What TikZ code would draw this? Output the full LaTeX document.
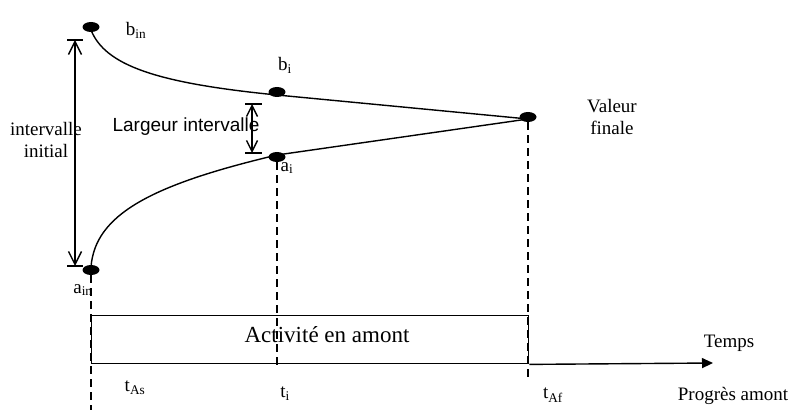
\documentclass[tikz,border=0pt]{standalone}
\usepackage{fontspec}
\setmainfont{Liberation Serif}
\newfontfamily\arialfont{Liberation Sans}
\usetikzlibrary{arrows.meta,shapes.geometric}
\begin{document}
\begin{tikzpicture}[x=1pt,y=-1pt,
  dot/.style={ellipse,fill=black,minimum width=17pt,minimum height=10pt,inner sep=0pt},
  lbl/.style={inner sep=0pt,font=\fontsize{19}{22}\selectfont},
  curve/.style={line width=1.4pt},
  guide/.style={line width=1.3pt,dash pattern=on 8pt off 5pt},
  bar/.style={line width=1.4pt},
  dimbig/.style={line width=1.4pt,{Straight Barb[length=13pt,width=13pt]}-{Straight Barb[length=13pt,width=13pt]}},
  dimsmall/.style={line width=1.4pt,{Straight Barb[length=11pt,width=11pt]}-{Straight Barb[length=11pt,width=11pt]}}]
\useasboundingbox (0,0) rectangle (792,414);

% dots
\node[dot] (bin) at (91,27) {};
\node[dot] (bi) at (277,92) {};
\node[dot] (fin) at (528,117) {};
\node[dot] (ai) at (277,157) {};
\node[dot] (ain) at (91,270) {};

% curves
\draw[curve] ([yshift=-3pt]bin.center) .. controls (105,65) and (155,83) .. ([yshift=-3pt]bi.center) -- ([yshift=-2pt]fin.center);
\draw[curve] ([yshift=3pt]ain.center) .. controls (95,215) and (150,185) .. ([yshift=2pt]ai.center) -- ([yshift=-2pt]fin.center);

% initial interval dimension
\coordinate (itl) at (67,40); \coordinate (itr) at (83,40);
\coordinate (ibl) at (67,266); \coordinate (ibr) at (83,266);
\coordinate (it) at (75,40); \coordinate (ib) at (75,266);
\draw[bar] (itl) -- (itr);
\draw[bar] (ibl) -- (ibr);
\draw[dimbig] (it) -- (ib);
\node[lbl,align=center] (lint) at (46,140) {intervalle\\initial};

% width interval dimension
\coordinate (wtl) at (245,104); \coordinate (wtr) at (262,104);
\coordinate (wbl) at (245,153); \coordinate (wbr) at (262,153);
\coordinate (wt) at (252,104); \coordinate (wb) at (252,153);
\draw[bar] (wtl) -- (wtr);
\draw[bar] (wbl) -- (wbr);
\draw[dimsmall] (wt) -- (wb);
\node[inner sep=0pt,font=\arialfont\fontsize{19}{22}\selectfont] (llarg) at (186,127) {Largeur intervalle};

% activity box and axis
\node[draw,line width=1.4pt,minimum width=437pt,minimum height=48pt,inner sep=0pt,anchor=north west] (box) at (91,315) {};
\node[inner sep=0pt,font=\fontsize{23}{26}\selectfont] (lact) at (327,335) {Activité en amont};
\coordinate (axend) at (713,363);
\draw[line width=1.4pt,-{Triangle[length=11pt,width=10pt]}] (box.south east) -- (axend);

% dashed guides
\coordinate (g1) at (91,410);
\coordinate (g2) at (277,368);
\coordinate (g3) at (528,378);
\draw[guide] (ain.south) -- (g1);
\draw[guide] (ai.south) -- (g2);
\draw[guide] (fin.south) -- (g3);

% labels
\node[lbl] (lbin) at (136,30) {b\textsubscript{in}};
\node[lbl] (lbi) at (285,65) {b\textsubscript{i}};
\node[lbl] (lai) at (287,168) {a\textsubscript{i}};
\node[lbl] (lain) at (83,290) {a\textsubscript{in}};
\node[lbl,align=center] (lfin) at (612,117) {Valeur\\finale};
\node[lbl] (ltas) at (135,388) {t\textsubscript{As}};
\node[lbl] (lti) at (285,394) {t\textsubscript{i}};
\node[lbl] (ltaf) at (553,395) {t\textsubscript{Af}};
\node[lbl] (ltemps) at (729,343) {Temps};
\node[lbl] (lprog) at (733,396) {Progrès amont};
\end{tikzpicture}
\end{document}
